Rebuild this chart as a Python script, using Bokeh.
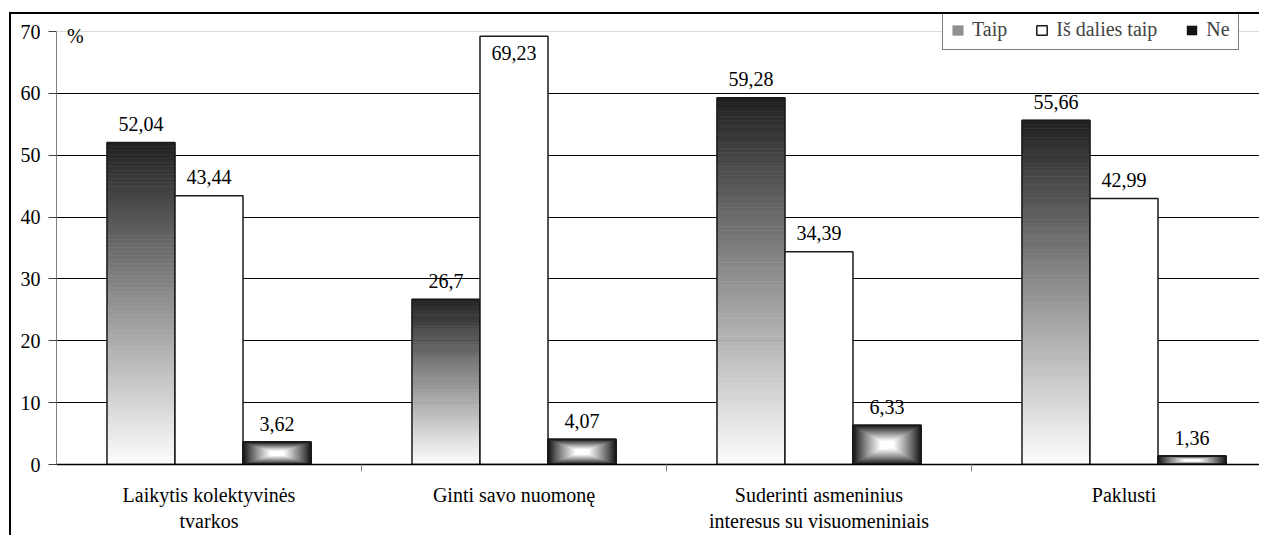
import numpy as np
from bokeh.plotting import figure
from bokeh.models import (Range1d, FixedTicker, ColumnDataSource, Span, Label,
                          Legend, LegendItem)
from bokeh.embed import file_html
from bokeh.resources import INLINE
from bokeh.core.properties import value

# ---------------- data ----------------
categories = ["Laikytis kolektyvinės\ntvarkos",
              "Ginti savo nuomonę",
              "Suderinti asmeninius\ninteresus su visuomeniniais",
              "Paklusti"]
series_names = ["Taip", "Iš dalies taip", "Ne"]
taip = [52.04, 26.7, 59.28, 55.66]
is_dalies = [43.44, 69.23, 34.39, 42.99]
ne = [3.62, 4.07, 6.33, 1.36]
y_ticks = [0, 10, 20, 30, 40, 50, 60, 70]
y_unit = "%"

# ---------------- styling ----------------
FONT = "Liberation Serif"
FS = "20px"
W, H = 1250, 523
LEFT = 45
CAT_PX = 305.0
PX_PER_UNIT = 433.0 / 70
TOP_PAD = 17
FRAME_W = W - LEFT
BW = 0.223

p = figure(width=W, height=H, output_backend="svg", toolbar_location=None,
           x_range=Range1d(0, FRAME_W / CAT_PX),
           y_range=Range1d(y_ticks[0], y_ticks[-1] + TOP_PAD / PX_PER_UNIT),
           min_border_left=LEFT, min_border_right=0, min_border_top=0, min_border_bottom=73)
p.outline_line_color = None
p.background_fill_color = "white"
p.border_fill_color = "white"
p.styles = {"border-left": "2px solid black", "border-top": "2px solid black",
            "margin-left": "9px", "margin-top": "12px"}

# grid
p.xgrid.visible = False
p.ygrid.ticker = FixedTicker(ticks=y_ticks[1:-1])
p.ygrid.grid_line_color = "black"
p.ygrid.grid_line_width = 1
p.add_layout(Span(location=y_ticks[-1], dimension="width", line_color="#d9d9d9", line_width=1))

# y axis
p.yaxis.ticker = FixedTicker(ticks=y_ticks)
p.yaxis.bounds = (y_ticks[0], y_ticks[-1])
p.yaxis.axis_line_color = "#808080"
p.yaxis.major_tick_line_color = "#404040"
p.yaxis.major_tick_out = 8
p.yaxis.major_tick_in = 0
p.yaxis.minor_tick_line_color = None
p.yaxis.major_label_text_font = FONT
p.yaxis.major_label_text_font_size = FS
p.yaxis.major_label_text_color = "black"
p.yaxis.major_label_standoff = 8

# x axis: labels at centres, ticks at category boundaries
centers = [i + 0.5 for i in range(len(categories))]
bounds = [float(i) for i in range(1, len(categories))]
p.xaxis.ticker = FixedTicker(ticks=centers, minor_ticks=bounds)
p.xaxis.major_label_overrides = {c: lab for c, lab in zip(centers, categories)}
p.xaxis.major_tick_out = 0
p.xaxis.major_tick_in = 0
p.xaxis.minor_tick_out = 7
p.xaxis.minor_tick_in = 0
p.xaxis.minor_tick_line_color = "#808080"
p.xaxis.axis_line_color = "black"
p.xaxis.axis_line_width = 1.5
p.xaxis.major_label_text_font = FONT
p.xaxis.major_label_text_font_size = FS
p.xaxis.major_label_text_color = "black"
p.xaxis.major_label_standoff = 12

# ---------------- bars ----------------
offsets = [-BW, 0.0, BW]

# Taip: vertical gradient (dark top -> white bottom)
N = 80
tl, tr, tb, tt, tc = [], [], [], [], []
for i, v in enumerate(taip):
    cx = centers[i] + offsets[0]
    for k in range(N):
        f = (k + 0.5) / N
        g = int(round(252 - 220 * f ** 1.05))
        tl.append(cx - BW / 2); tr.append(cx + BW / 2)
        tb.append(v * k / N); tt.append(v * (k + 1) / N)
        tc.append("#%02x%02x%02x" % (g, g, g))
src_t = ColumnDataSource(dict(left=tl, right=tr, bottom=tb, top=tt, color=tc))
r_taip = p.quad(left="left", right="right", bottom="bottom", top="top", source=src_t,
                fill_color="color", line_color="color", line_width=0.6)

# Ne: rectangular gradient (dark edges -> white centre)
M = 40
nl, nr, nb, nt, nc = [], [], [], [], []
for i, v in enumerate(ne):
    cx = centers[i] + offsets[2]
    hw, hh = BW / 2, v / 2
    cy = v / 2
    for k in range(M):
        t = k / M
        g = int(round(20 + 235 * min(1.0, (t / 0.8) ** 0.9)))
        nl.append(cx - hw * (1 - t)); nr.append(cx + hw * (1 - t))
        nb.append(cy - hh * (1 - t)); nt.append(cy + hh * (1 - t))
        nc.append("#%02x%02x%02x" % (g, g, g))
src_n = ColumnDataSource(dict(left=nl, right=nr, bottom=nb, top=nt, color=nc))
r_ne = p.quad(left="left", right="right", bottom="bottom", top="top", source=src_n,
              fill_color="color", line_color=None)

# outlines (and white fill for "Iš dalies taip")
outline_r = []
for s_i, vals in enumerate([taip, is_dalies, ne]):
    xs = [c + offsets[s_i] for c in centers]
    outline_r.append(p.quad(left=[x - BW / 2 for x in xs], right=[x + BW / 2 for x in xs],
                            bottom=[0] * len(vals), top=vals,
                            fill_color="white" if s_i == 1 else None,
                            line_color="#1a1a1a", line_width=2 if s_i == 2 else 1.5))

# value labels
lx, ly, lt = [], [], []
for s_i, vals in enumerate([taip, is_dalies, ne]):
    for i, v in enumerate(vals):
        lx.append(centers[i] + offsets[s_i])
        ly.append(min(v + 3.0, y_ticks[-1] - 3.4))
        lt.append(("%g" % v).replace(".", ","))
p.text(x=lx, y=ly, text=lt, text_align="center", text_baseline="middle",
       text_font=value(FONT), text_font_size=FS, text_color="black")

# unit label
p.add_layout(Label(x=0.062, y=69.2, text=y_unit, text_align="center", text_baseline="middle",
                   text_font=FONT, text_font_size=FS, text_color="black"))

# ---------------- legend ----------------
legend = Legend(items=[LegendItem(label=series_names[0], renderers=[r_taip], index=int(N * 0.5)),
                       LegendItem(label=series_names[1], renderers=[outline_r[1]], index=0),
                       LegendItem(label=series_names[2], renderers=[r_ne], index=0)],
                orientation="horizontal", location=(886, 414),
                border_line_color="black", border_line_width=1,
                background_fill_color="white", background_fill_alpha=1,
                label_text_font=FONT, label_text_font_size=FS,
                glyph_width=13, glyph_height=12, label_standoff=8, spacing=28,
                padding=8, margin=0, label_height=20)
p.add_layout(legend)

open("out.html", "w").write(file_html(p, INLINE))
